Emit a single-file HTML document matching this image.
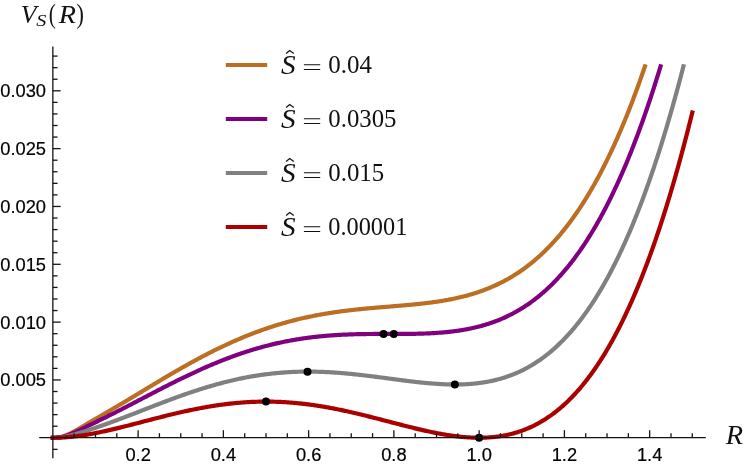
<!DOCTYPE html>
<html><head><meta charset="utf-8"><title>plot</title>
<style>
html,body{margin:0;padding:0;background:#fff;}
body{width:747px;height:466px;overflow:hidden;}
svg{display:block;}
.ax line{stroke:#141414;stroke-width:1.3;}
.tl text{font-family:"Liberation Sans",sans-serif;font-size:18.3px;fill:#000;stroke:#000;stroke-width:0.2px;}
.m{font-family:"Liberation Serif",serif;font-size:24px;fill:#111;}
.i{font-style:italic;}
.cv path{fill:none;stroke-width:4.2;stroke-linecap:square;stroke-linejoin:round;}
</style></head><body>
<div style="will-change:transform"><svg width="747" height="466" viewBox="0 0 747 466">
<rect width="747" height="466" fill="#fff"/>
<g class="tl">
<text x="138.11" y="460.9" text-anchor="middle">0.2</text>
<text x="223.37" y="460.9" text-anchor="middle">0.4</text>
<text x="308.63" y="460.9" text-anchor="middle">0.6</text>
<text x="393.89" y="460.9" text-anchor="middle">0.8</text>
<text x="479.15" y="460.9" text-anchor="middle">1.0</text>
<text x="564.41" y="460.9" text-anchor="middle">1.2</text>
<text x="649.67" y="460.9" text-anchor="middle">1.4</text>
<text x="46.0" y="386.45" text-anchor="end">0.005</text>
<text x="46.0" y="328.62" text-anchor="end">0.010</text>
<text x="46.0" y="270.79" text-anchor="end">0.015</text>
<text x="46.0" y="212.96" text-anchor="end">0.020</text>
<text x="46.0" y="155.13" text-anchor="end">0.025</text>
<text x="46.0" y="97.30" text-anchor="end">0.030</text>
</g>
<g class="cv">
<path d="M52.85 437.78 L53.92 437.77 L54.98 437.74 L56.05 437.68 L57.11 437.58 L58.18 437.45 L59.24 437.28 L60.31 437.07 L61.38 436.81 L62.44 436.53 L63.51 436.20 L64.57 435.84 L65.64 435.44 L66.70 435.01 L67.77 434.56 L68.84 434.08 L69.90 433.57 L70.97 433.05 L72.03 432.50 L73.10 431.94 L74.17 431.36 L75.23 430.78 L76.30 430.18 L77.36 429.57 L78.43 428.96 L79.49 428.34 L80.56 427.72 L81.63 427.09 L82.69 426.46 L83.76 425.83 L84.82 425.20 L85.89 424.57 L86.95 423.94 L88.02 423.31 L89.09 422.69 L90.15 422.06 L91.22 421.43 L92.28 420.81 L93.35 420.18 L94.41 419.56 L95.48 418.94 L96.55 418.32 L97.61 417.70 L98.68 417.08 L99.74 416.46 L100.81 415.84 L101.87 415.22 L102.94 414.60 L104.01 413.98 L105.07 413.37 L106.14 412.75 L107.20 412.13 L108.27 411.51 L109.33 410.89 L110.40 410.26 L111.47 409.64 L112.53 409.02 L113.60 408.39 L114.66 407.77 L115.73 407.14 L116.80 406.52 L117.86 405.89 L118.93 405.26 L119.99 404.63 L121.06 404.00 L122.12 403.36 L123.19 402.73 L124.26 402.10 L125.32 401.46 L126.39 400.83 L127.45 400.19 L128.52 399.55 L129.58 398.91 L130.65 398.27 L131.72 397.63 L132.78 396.99 L133.85 396.35 L134.91 395.71 L135.98 395.07 L137.04 394.43 L138.11 393.78 L139.18 393.14 L140.24 392.50 L141.31 391.86 L142.37 391.21 L143.44 390.57 L144.50 389.93 L145.57 389.28 L146.64 388.64 L147.70 388.00 L148.77 387.35 L149.83 386.71 L150.90 386.07 L151.96 385.43 L153.03 384.79 L154.10 384.15 L155.16 383.51 L156.23 382.87 L157.29 382.23 L158.36 381.59 L159.43 380.96 L160.49 380.32 L161.56 379.69 L162.62 379.05 L163.69 378.42 L164.75 377.79 L165.82 377.16 L166.89 376.53 L167.95 375.90 L169.02 375.28 L170.08 374.65 L171.15 374.03 L172.21 373.41 L173.28 372.79 L174.35 372.17 L175.41 371.55 L176.48 370.93 L177.54 370.32 L178.61 369.71 L179.67 369.10 L180.74 368.49 L181.81 367.88 L182.87 367.28 L183.94 366.67 L185.00 366.07 L186.07 365.47 L187.13 364.88 L188.20 364.28 L189.27 363.69 L190.33 363.10 L191.40 362.51 L192.46 361.93 L193.53 361.34 L194.59 360.76 L195.66 360.18 L196.73 359.61 L197.79 359.03 L198.86 358.46 L199.92 357.89 L200.99 357.33 L202.06 356.76 L203.12 356.20 L204.19 355.64 L205.25 355.09 L206.32 354.53 L207.38 353.98 L208.45 353.44 L209.52 352.89 L210.58 352.35 L211.65 351.81 L212.71 351.28 L213.78 350.74 L214.84 350.21 L215.91 349.69 L216.98 349.16 L218.04 348.64 L219.11 348.12 L220.17 347.61 L221.24 347.10 L222.30 346.59 L223.37 346.08 L224.44 345.58 L225.50 345.08 L226.57 344.59 L227.63 344.10 L228.70 343.61 L229.76 343.12 L230.83 342.64 L231.90 342.16 L232.96 341.68 L234.03 341.21 L235.09 340.74 L236.16 340.28 L237.22 339.81 L238.29 339.35 L239.36 338.90 L240.42 338.45 L241.49 338.00 L242.55 337.55 L243.62 337.11 L244.69 336.67 L245.75 336.24 L246.82 335.81 L247.88 335.38 L248.95 334.95 L250.01 334.53 L251.08 334.12 L252.15 333.70 L253.21 333.29 L254.28 332.89 L255.34 332.48 L256.41 332.09 L257.47 331.69 L258.54 331.30 L259.61 330.91 L260.67 330.52 L261.74 330.14 L262.80 329.77 L263.87 329.39 L264.93 329.02 L266.00 328.65 L267.07 328.29 L268.13 327.93 L269.20 327.58 L270.26 327.22 L271.33 326.88 L272.39 326.53 L273.46 326.19 L274.53 325.85 L275.59 325.52 L276.66 325.19 L277.72 324.86 L278.79 324.54 L279.85 324.22 L280.92 323.90 L281.99 323.59 L283.05 323.28 L284.12 322.97 L285.18 322.67 L286.25 322.37 L287.32 322.08 L288.38 321.78 L289.45 321.50 L290.51 321.21 L291.58 320.93 L292.64 320.65 L293.71 320.38 L294.78 320.11 L295.84 319.84 L296.91 319.58 L297.97 319.32 L299.04 319.06 L300.10 318.80 L301.17 318.55 L302.24 318.31 L303.30 318.06 L304.37 317.82 L305.43 317.58 L306.50 317.35 L307.56 317.12 L308.63 316.89 L309.70 316.67 L310.76 316.45 L311.83 316.23 L312.89 316.01 L313.96 315.80 L315.02 315.59 L316.09 315.39 L317.16 315.18 L318.22 314.98 L319.29 314.79 L320.35 314.59 L321.42 314.40 L322.48 314.21 L323.55 314.03 L324.62 313.84 L325.68 313.67 L326.75 313.49 L327.81 313.31 L328.88 313.14 L329.95 312.97 L331.01 312.81 L332.08 312.64 L333.14 312.48 L334.21 312.32 L335.27 312.17 L336.34 312.01 L337.41 311.86 L338.47 311.71 L339.54 311.57 L340.60 311.42 L341.67 311.28 L342.73 311.14 L343.80 311.01 L344.87 310.87 L345.93 310.74 L347.00 310.61 L348.06 310.48 L349.13 310.35 L350.19 310.23 L351.26 310.10 L352.33 309.98 L353.39 309.86 L354.46 309.75 L355.52 309.63 L356.59 309.52 L357.65 309.40 L358.72 309.29 L359.79 309.18 L360.85 309.08 L361.92 308.97 L362.98 308.86 L364.05 308.76 L365.11 308.66 L366.18 308.56 L367.25 308.46 L368.31 308.36 L369.38 308.26 L370.44 308.17 L371.51 308.07 L372.58 307.98 L373.64 307.88 L374.71 307.79 L375.77 307.70 L376.84 307.61 L377.90 307.52 L378.97 307.43 L380.04 307.34 L381.10 307.25 L382.17 307.16 L383.23 307.07 L384.30 306.99 L385.36 306.90 L386.43 306.81 L387.50 306.73 L388.56 306.64 L389.63 306.55 L390.69 306.47 L391.76 306.38 L392.82 306.29 L393.89 306.21 L394.96 306.12 L396.02 306.03 L397.09 305.94 L398.15 305.85 L399.22 305.76 L400.28 305.67 L401.35 305.58 L402.42 305.49 L403.48 305.40 L404.55 305.31 L405.61 305.21 L406.68 305.12 L407.74 305.02 L408.81 304.92 L409.88 304.83 L410.94 304.73 L412.01 304.62 L413.07 304.52 L414.14 304.42 L415.21 304.31 L416.27 304.20 L417.34 304.09 L418.40 303.98 L419.47 303.87 L420.53 303.75 L421.60 303.64 L422.67 303.52 L423.73 303.39 L424.80 303.27 L425.86 303.14 L426.93 303.02 L427.99 302.88 L429.06 302.75 L430.13 302.61 L431.19 302.47 L432.26 302.33 L433.32 302.18 L434.39 302.04 L435.45 301.88 L436.52 301.73 L437.59 301.57 L438.65 301.41 L439.72 301.24 L440.78 301.07 L441.85 300.90 L442.91 300.73 L443.98 300.55 L445.05 300.36 L446.11 300.17 L447.18 299.98 L448.24 299.78 L449.31 299.58 L450.37 299.38 L451.44 299.17 L452.51 298.95 L453.57 298.74 L454.64 298.51 L455.70 298.28 L456.77 298.05 L457.84 297.81 L458.90 297.57 L459.97 297.32 L461.03 297.06 L462.10 296.80 L463.16 296.54 L464.23 296.27 L465.30 295.99 L466.36 295.71 L467.43 295.42 L468.49 295.12 L469.56 294.82 L470.62 294.51 L471.69 294.20 L472.76 293.88 L473.82 293.55 L474.89 293.22 L475.95 292.88 L477.02 292.53 L478.08 292.18 L479.15 291.82 L480.22 291.45 L481.28 291.07 L482.35 290.69 L483.41 290.30 L484.48 289.90 L485.54 289.49 L486.61 289.08 L487.68 288.66 L488.74 288.23 L489.81 287.79 L490.87 287.34 L491.94 286.89 L493.00 286.42 L494.07 285.95 L495.14 285.47 L496.20 284.98 L497.27 284.48 L498.33 283.97 L499.40 283.45 L500.47 282.92 L501.53 282.39 L502.60 281.84 L503.66 281.29 L504.73 280.72 L505.79 280.14 L506.86 279.56 L507.93 278.96 L508.99 278.36 L510.06 277.74 L511.12 277.11 L512.19 276.47 L513.25 275.82 L514.32 275.16 L515.39 274.49 L516.45 273.81 L517.52 273.12 L518.58 272.41 L519.65 271.69 L520.71 270.96 L521.78 270.22 L522.85 269.47 L523.91 268.71 L524.98 267.93 L526.04 267.14 L527.11 266.34 L528.17 265.52 L529.24 264.70 L530.31 263.86 L531.37 263.00 L532.44 262.14 L533.50 261.26 L534.57 260.36 L535.63 259.46 L536.70 258.53 L537.77 257.60 L538.83 256.65 L539.90 255.69 L540.96 254.71 L542.03 253.72 L543.10 252.71 L544.16 251.69 L545.23 250.66 L546.29 249.61 L547.36 248.54 L548.42 247.46 L549.49 246.36 L550.56 245.25 L551.62 244.13 L552.69 242.98 L553.75 241.82 L554.82 240.65 L555.88 239.45 L556.95 238.25 L558.02 237.02 L559.08 235.78 L560.15 234.52 L561.21 233.25 L562.28 231.95 L563.34 230.64 L564.41 229.31 L565.48 227.97 L566.54 226.61 L567.61 225.23 L568.67 223.83 L569.74 222.41 L570.80 220.97 L571.87 219.52 L572.94 218.05 L574.00 216.55 L575.07 215.04 L576.13 213.51 L577.20 211.96 L578.26 210.39 L579.33 208.81 L580.40 207.20 L581.46 205.57 L582.53 203.92 L583.59 202.25 L584.66 200.56 L585.73 198.85 L586.79 197.12 L587.86 195.37 L588.92 193.60 L589.99 191.80 L591.05 189.99 L592.12 188.15 L593.19 186.29 L594.25 184.41 L595.32 182.51 L596.38 180.58 L597.45 178.63 L598.51 176.66 L599.58 174.67 L600.65 172.66 L601.71 170.62 L602.78 168.55 L603.84 166.47 L604.91 164.36 L605.97 162.23 L607.04 160.07 L608.11 157.89 L609.17 155.68 L610.24 153.45 L611.30 151.20 L612.37 148.92 L613.43 146.61 L614.50 144.28 L615.57 141.93 L616.63 139.55 L617.70 137.14 L618.76 134.71 L619.83 132.25 L620.89 129.76 L621.96 127.25 L623.03 124.72 L624.09 122.15 L625.16 119.56 L626.22 116.94 L627.29 114.29 L628.36 111.62 L629.42 108.92 L630.49 106.19 L631.55 103.43 L632.62 100.65 L633.68 97.83 L634.75 94.99 L635.82 92.12 L636.88 89.22 L637.95 86.29 L639.01 83.33 L640.08 80.34 L641.14 77.32 L642.21 74.27 L643.28 71.19 L644.34 68.08 L644.95 66.30" stroke="#BC6E22"/>
<path d="M52.85 437.78 L53.92 437.77 L54.98 437.75 L56.05 437.70 L57.11 437.62 L58.18 437.51 L59.24 437.37 L60.31 437.19 L61.38 436.99 L62.44 436.76 L63.51 436.49 L64.57 436.20 L65.64 435.88 L66.70 435.54 L67.77 435.17 L68.84 434.78 L69.90 434.37 L70.97 433.94 L72.03 433.50 L73.10 433.05 L74.17 432.58 L75.23 432.10 L76.30 431.61 L77.36 431.12 L78.43 430.62 L79.49 430.11 L80.56 429.60 L81.63 429.09 L82.69 428.57 L83.76 428.05 L84.82 427.53 L85.89 427.01 L86.95 426.49 L88.02 425.96 L89.09 425.44 L90.15 424.92 L91.22 424.39 L92.28 423.87 L93.35 423.35 L94.41 422.82 L95.48 422.30 L96.55 421.78 L97.61 421.25 L98.68 420.73 L99.74 420.21 L100.81 419.68 L101.87 419.16 L102.94 418.63 L104.01 418.10 L105.07 417.58 L106.14 417.05 L107.20 416.52 L108.27 415.99 L109.33 415.46 L110.40 414.93 L111.47 414.39 L112.53 413.86 L113.60 413.32 L114.66 412.79 L115.73 412.25 L116.80 411.71 L117.86 411.17 L118.93 410.63 L119.99 410.08 L121.06 409.54 L122.12 408.99 L123.19 408.45 L124.26 407.90 L125.32 407.35 L126.39 406.80 L127.45 406.25 L128.52 405.70 L129.58 405.15 L130.65 404.60 L131.72 404.05 L132.78 403.49 L133.85 402.94 L134.91 402.38 L135.98 401.83 L137.04 401.27 L138.11 400.72 L139.18 400.16 L140.24 399.60 L141.31 399.05 L142.37 398.49 L143.44 397.94 L144.50 397.38 L145.57 396.82 L146.64 396.27 L147.70 395.71 L148.77 395.15 L149.83 394.60 L150.90 394.04 L151.96 393.49 L153.03 392.94 L154.10 392.38 L155.16 391.83 L156.23 391.28 L157.29 390.73 L158.36 390.17 L159.43 389.62 L160.49 389.08 L161.56 388.53 L162.62 387.98 L163.69 387.44 L164.75 386.89 L165.82 386.35 L166.89 385.80 L167.95 385.26 L169.02 384.72 L170.08 384.19 L171.15 383.65 L172.21 383.11 L173.28 382.58 L174.35 382.05 L175.41 381.52 L176.48 380.99 L177.54 380.46 L178.61 379.93 L179.67 379.41 L180.74 378.89 L181.81 378.37 L182.87 377.85 L183.94 377.33 L185.00 376.82 L186.07 376.31 L187.13 375.80 L188.20 375.29 L189.27 374.78 L190.33 374.28 L191.40 373.78 L192.46 373.28 L193.53 372.78 L194.59 372.29 L195.66 371.80 L196.73 371.31 L197.79 370.82 L198.86 370.33 L199.92 369.85 L200.99 369.37 L202.06 368.90 L203.12 368.42 L204.19 367.95 L205.25 367.48 L206.32 367.01 L207.38 366.55 L208.45 366.09 L209.52 365.63 L210.58 365.18 L211.65 364.73 L212.71 364.28 L213.78 363.83 L214.84 363.39 L215.91 362.95 L216.98 362.51 L218.04 362.08 L219.11 361.64 L220.17 361.22 L221.24 360.79 L222.30 360.37 L223.37 359.95 L224.44 359.54 L225.50 359.12 L226.57 358.71 L227.63 358.31 L228.70 357.91 L229.76 357.51 L230.83 357.11 L231.90 356.72 L232.96 356.33 L234.03 355.94 L235.09 355.56 L236.16 355.18 L237.22 354.81 L238.29 354.43 L239.36 354.06 L240.42 353.70 L241.49 353.34 L242.55 352.98 L243.62 352.62 L244.69 352.27 L245.75 351.92 L246.82 351.58 L247.88 351.24 L248.95 350.90 L250.01 350.57 L251.08 350.24 L252.15 349.91 L253.21 349.59 L254.28 349.27 L255.34 348.95 L256.41 348.64 L257.47 348.33 L258.54 348.02 L259.61 347.72 L260.67 347.42 L261.74 347.13 L262.80 346.84 L263.87 346.55 L264.93 346.27 L266.00 345.99 L267.07 345.71 L268.13 345.44 L269.20 345.17 L270.26 344.90 L271.33 344.64 L272.39 344.38 L273.46 344.13 L274.53 343.88 L275.59 343.63 L276.66 343.39 L277.72 343.15 L278.79 342.91 L279.85 342.68 L280.92 342.45 L281.99 342.22 L283.05 342.00 L284.12 341.78 L285.18 341.56 L286.25 341.35 L287.32 341.14 L288.38 340.94 L289.45 340.74 L290.51 340.54 L291.58 340.34 L292.64 340.15 L293.71 339.96 L294.78 339.78 L295.84 339.60 L296.91 339.42 L297.97 339.25 L299.04 339.08 L300.10 338.91 L301.17 338.75 L302.24 338.59 L303.30 338.43 L304.37 338.28 L305.43 338.12 L306.50 337.98 L307.56 337.83 L308.63 337.69 L309.70 337.55 L310.76 337.42 L311.83 337.29 L312.89 337.16 L313.96 337.03 L315.02 336.91 L316.09 336.79 L317.16 336.68 L318.22 336.56 L319.29 336.45 L320.35 336.35 L321.42 336.24 L322.48 336.14 L323.55 336.04 L324.62 335.94 L325.68 335.85 L326.75 335.76 L327.81 335.67 L328.88 335.59 L329.95 335.51 L331.01 335.43 L332.08 335.35 L333.14 335.28 L334.21 335.20 L335.27 335.13 L336.34 335.07 L337.41 335.00 L338.47 334.94 L339.54 334.88 L340.60 334.82 L341.67 334.77 L342.73 334.72 L343.80 334.67 L344.87 334.62 L345.93 334.57 L347.00 334.53 L348.06 334.48 L349.13 334.44 L350.19 334.41 L351.26 334.37 L352.33 334.33 L353.39 334.30 L354.46 334.27 L355.52 334.24 L356.59 334.22 L357.65 334.19 L358.72 334.17 L359.79 334.14 L360.85 334.12 L361.92 334.10 L362.98 334.08 L364.05 334.07 L365.11 334.05 L366.18 334.04 L367.25 334.02 L368.31 334.01 L369.38 334.00 L370.44 333.99 L371.51 333.98 L372.58 333.98 L373.64 333.97 L374.71 333.96 L375.77 333.96 L376.84 333.95 L377.90 333.95 L378.97 333.95 L380.04 333.95 L381.10 333.94 L382.17 333.94 L383.23 333.94 L384.30 333.94 L385.36 333.94 L386.43 333.94 L387.50 333.94 L388.56 333.94 L389.63 333.94 L390.69 333.94 L391.76 333.94 L392.82 333.94 L393.89 333.94 L394.96 333.94 L396.02 333.94 L397.09 333.93 L398.15 333.93 L399.22 333.93 L400.28 333.93 L401.35 333.92 L402.42 333.92 L403.48 333.91 L404.55 333.91 L405.61 333.90 L406.68 333.89 L407.74 333.88 L408.81 333.87 L409.88 333.86 L410.94 333.84 L412.01 333.83 L413.07 333.81 L414.14 333.80 L415.21 333.78 L416.27 333.76 L417.34 333.73 L418.40 333.71 L419.47 333.68 L420.53 333.65 L421.60 333.62 L422.67 333.59 L423.73 333.55 L424.80 333.52 L425.86 333.48 L426.93 333.43 L427.99 333.39 L429.06 333.34 L430.13 333.29 L431.19 333.24 L432.26 333.18 L433.32 333.12 L434.39 333.06 L435.45 333.00 L436.52 332.93 L437.59 332.86 L438.65 332.78 L439.72 332.70 L440.78 332.62 L441.85 332.54 L442.91 332.45 L443.98 332.35 L445.05 332.25 L446.11 332.15 L447.18 332.05 L448.24 331.94 L449.31 331.82 L450.37 331.70 L451.44 331.58 L452.51 331.45 L453.57 331.32 L454.64 331.18 L455.70 331.04 L456.77 330.90 L457.84 330.74 L458.90 330.59 L459.97 330.42 L461.03 330.26 L462.10 330.08 L463.16 329.90 L464.23 329.72 L465.30 329.53 L466.36 329.33 L467.43 329.13 L468.49 328.92 L469.56 328.71 L470.62 328.49 L471.69 328.26 L472.76 328.03 L473.82 327.79 L474.89 327.54 L475.95 327.29 L477.02 327.03 L478.08 326.76 L479.15 326.48 L480.22 326.20 L481.28 325.91 L482.35 325.62 L483.41 325.31 L484.48 325.00 L485.54 324.68 L486.61 324.35 L487.68 324.02 L488.74 323.67 L489.81 323.32 L490.87 322.96 L491.94 322.59 L493.00 322.21 L494.07 321.83 L495.14 321.43 L496.20 321.03 L497.27 320.62 L498.33 320.20 L499.40 319.76 L500.47 319.32 L501.53 318.87 L502.60 318.41 L503.66 317.95 L504.73 317.47 L505.79 316.98 L506.86 316.48 L507.93 315.97 L508.99 315.45 L510.06 314.92 L511.12 314.38 L512.19 313.83 L513.25 313.26 L514.32 312.69 L515.39 312.10 L516.45 311.51 L517.52 310.90 L518.58 310.28 L519.65 309.65 L520.71 309.01 L521.78 308.36 L522.85 307.69 L523.91 307.01 L524.98 306.32 L526.04 305.62 L527.11 304.90 L528.17 304.18 L529.24 303.44 L530.31 302.68 L531.37 301.91 L532.44 301.14 L533.50 300.34 L534.57 299.54 L535.63 298.71 L536.70 297.88 L537.77 297.03 L538.83 296.17 L539.90 295.30 L540.96 294.40 L542.03 293.50 L543.10 292.58 L544.16 291.65 L545.23 290.70 L546.29 289.73 L547.36 288.75 L548.42 287.76 L549.49 286.75 L550.56 285.73 L551.62 284.68 L552.69 283.63 L553.75 282.55 L554.82 281.47 L555.88 280.36 L556.95 279.24 L558.02 278.10 L559.08 276.95 L560.15 275.77 L561.21 274.58 L562.28 273.38 L563.34 272.15 L564.41 270.91 L565.48 269.66 L566.54 268.38 L567.61 267.08 L568.67 265.77 L569.74 264.44 L570.80 263.09 L571.87 261.72 L572.94 260.34 L574.00 258.93 L575.07 257.51 L576.13 256.07 L577.20 254.60 L578.26 253.12 L579.33 251.62 L580.40 250.10 L581.46 248.55 L582.53 246.99 L583.59 245.41 L584.66 243.81 L585.73 242.18 L586.79 240.54 L587.86 238.88 L588.92 237.19 L589.99 235.48 L591.05 233.75 L592.12 232.00 L593.19 230.23 L594.25 228.44 L595.32 226.62 L596.38 224.78 L597.45 222.92 L598.51 221.04 L599.58 219.13 L600.65 217.20 L601.71 215.25 L602.78 213.27 L603.84 211.27 L604.91 209.25 L605.97 207.21 L607.04 205.13 L608.11 203.04 L609.17 200.92 L610.24 198.78 L611.30 196.61 L612.37 194.42 L613.43 192.20 L614.50 189.96 L615.57 187.69 L616.63 185.39 L617.70 183.07 L618.76 180.73 L619.83 178.36 L620.89 175.96 L621.96 173.53 L623.03 171.08 L624.09 168.60 L625.16 166.10 L626.22 163.57 L627.29 161.01 L628.36 158.42 L629.42 155.81 L630.49 153.16 L631.55 150.49 L632.62 147.79 L633.68 145.07 L634.75 142.31 L635.82 139.52 L636.88 136.71 L637.95 133.87 L639.01 130.99 L640.08 128.09 L641.14 125.16 L642.21 122.20 L643.28 119.21 L644.34 116.18 L645.41 113.13 L646.47 110.05 L647.54 106.93 L648.60 103.79 L649.67 100.61 L650.74 97.40 L651.80 94.16 L652.87 90.89 L653.93 87.58 L655.00 84.25 L656.06 80.88 L657.13 77.48 L658.20 74.04 L659.26 70.57 L660.33 67.07 L660.56 66.30" stroke="#800080"/>
<path d="M52.85 437.78 L53.92 437.77 L54.98 437.76 L56.05 437.72 L57.11 437.67 L58.18 437.60 L59.24 437.51 L60.31 437.41 L61.38 437.28 L62.44 437.13 L63.51 436.97 L64.57 436.79 L65.64 436.60 L66.70 436.39 L67.77 436.16 L68.84 435.92 L69.90 435.67 L70.97 435.41 L72.03 435.13 L73.10 434.85 L74.17 434.56 L75.23 434.26 L76.30 433.95 L77.36 433.64 L78.43 433.32 L79.49 433.00 L80.56 432.67 L81.63 432.34 L82.69 432.00 L83.76 431.67 L84.82 431.32 L85.89 430.98 L86.95 430.63 L88.02 430.28 L89.09 429.93 L90.15 429.58 L91.22 429.23 L92.28 428.87 L93.35 428.51 L94.41 428.15 L95.48 427.79 L96.55 427.42 L97.61 427.06 L98.68 426.69 L99.74 426.32 L100.81 425.95 L101.87 425.58 L102.94 425.20 L104.01 424.83 L105.07 424.45 L106.14 424.07 L107.20 423.69 L108.27 423.30 L109.33 422.92 L110.40 422.53 L111.47 422.14 L112.53 421.76 L113.60 421.36 L114.66 420.97 L115.73 420.58 L116.80 420.18 L117.86 419.78 L118.93 419.38 L119.99 418.98 L121.06 418.58 L122.12 418.18 L123.19 417.78 L124.26 417.37 L125.32 416.96 L126.39 416.56 L127.45 416.15 L128.52 415.74 L129.58 415.33 L130.65 414.92 L131.72 414.51 L132.78 414.10 L133.85 413.68 L134.91 413.27 L135.98 412.86 L137.04 412.44 L138.11 412.03 L139.18 411.61 L140.24 411.20 L141.31 410.78 L142.37 410.37 L143.44 409.95 L144.50 409.54 L145.57 409.12 L146.64 408.71 L147.70 408.29 L148.77 407.88 L149.83 407.47 L150.90 407.05 L151.96 406.64 L153.03 406.23 L154.10 405.81 L155.16 405.40 L156.23 404.99 L157.29 404.58 L158.36 404.17 L159.43 403.77 L160.49 403.36 L161.56 402.95 L162.62 402.55 L163.69 402.14 L164.75 401.74 L165.82 401.34 L166.89 400.93 L167.95 400.54 L169.02 400.14 L170.08 399.74 L171.15 399.34 L172.21 398.95 L173.28 398.56 L174.35 398.17 L175.41 397.78 L176.48 397.39 L177.54 397.00 L178.61 396.62 L179.67 396.24 L180.74 395.86 L181.81 395.48 L182.87 395.10 L183.94 394.73 L185.00 394.35 L186.07 393.98 L187.13 393.61 L188.20 393.25 L189.27 392.88 L190.33 392.52 L191.40 392.16 L192.46 391.80 L193.53 391.45 L194.59 391.09 L195.66 390.74 L196.73 390.39 L197.79 390.05 L198.86 389.71 L199.92 389.37 L200.99 389.03 L202.06 388.69 L203.12 388.36 L204.19 388.03 L205.25 387.70 L206.32 387.38 L207.38 387.05 L208.45 386.74 L209.52 386.42 L210.58 386.11 L211.65 385.79 L212.71 385.49 L213.78 385.18 L214.84 384.88 L215.91 384.58 L216.98 384.29 L218.04 383.99 L219.11 383.70 L220.17 383.42 L221.24 383.13 L222.30 382.85 L223.37 382.58 L224.44 382.30 L225.50 382.03 L226.57 381.76 L227.63 381.50 L228.70 381.24 L229.76 380.98 L230.83 380.73 L231.90 380.47 L232.96 380.23 L234.03 379.98 L235.09 379.74 L236.16 379.50 L237.22 379.27 L238.29 379.04 L239.36 378.81 L240.42 378.59 L241.49 378.37 L242.55 378.15 L243.62 377.93 L244.69 377.72 L245.75 377.52 L246.82 377.31 L247.88 377.11 L248.95 376.92 L250.01 376.73 L251.08 376.54 L252.15 376.35 L253.21 376.17 L254.28 375.99 L255.34 375.82 L256.41 375.65 L257.47 375.48 L258.54 375.31 L259.61 375.15 L260.67 375.00 L261.74 374.84 L262.80 374.69 L263.87 374.55 L264.93 374.41 L266.00 374.27 L267.07 374.13 L268.13 374.00 L269.20 373.87 L270.26 373.75 L271.33 373.63 L272.39 373.51 L273.46 373.40 L274.53 373.29 L275.59 373.18 L276.66 373.08 L277.72 372.98 L278.79 372.89 L279.85 372.79 L280.92 372.71 L281.99 372.62 L283.05 372.54 L284.12 372.46 L285.18 372.39 L286.25 372.32 L287.32 372.25 L288.38 372.19 L289.45 372.13 L290.51 372.07 L291.58 372.02 L292.64 371.97 L293.71 371.92 L294.78 371.88 L295.84 371.84 L296.91 371.80 L297.97 371.77 L299.04 371.74 L300.10 371.72 L301.17 371.69 L302.24 371.67 L303.30 371.66 L304.37 371.65 L305.43 371.64 L306.50 371.63 L307.56 371.63 L308.63 371.63 L309.70 371.63 L310.76 371.64 L311.83 371.65 L312.89 371.66 L313.96 371.68 L315.02 371.70 L316.09 371.72 L317.16 371.74 L318.22 371.77 L319.29 371.80 L320.35 371.84 L321.42 371.87 L322.48 371.91 L323.55 371.96 L324.62 372.00 L325.68 372.05 L326.75 372.10 L327.81 372.16 L328.88 372.21 L329.95 372.27 L331.01 372.33 L332.08 372.40 L333.14 372.46 L334.21 372.53 L335.27 372.61 L336.34 372.68 L337.41 372.76 L338.47 372.84 L339.54 372.92 L340.60 373.00 L341.67 373.09 L342.73 373.18 L343.80 373.27 L344.87 373.36 L345.93 373.46 L347.00 373.55 L348.06 373.65 L349.13 373.75 L350.19 373.86 L351.26 373.96 L352.33 374.07 L353.39 374.18 L354.46 374.29 L355.52 374.40 L356.59 374.51 L357.65 374.63 L358.72 374.75 L359.79 374.87 L360.85 374.99 L361.92 375.11 L362.98 375.23 L364.05 375.36 L365.11 375.48 L366.18 375.61 L367.25 375.74 L368.31 375.87 L369.38 376.00 L370.44 376.13 L371.51 376.26 L372.58 376.40 L373.64 376.53 L374.71 376.67 L375.77 376.80 L376.84 376.94 L377.90 377.08 L378.97 377.22 L380.04 377.36 L381.10 377.50 L382.17 377.64 L383.23 377.78 L384.30 377.92 L385.36 378.06 L386.43 378.20 L387.50 378.34 L388.56 378.48 L389.63 378.62 L390.69 378.76 L391.76 378.90 L392.82 379.05 L393.89 379.19 L394.96 379.33 L396.02 379.47 L397.09 379.61 L398.15 379.75 L399.22 379.89 L400.28 380.02 L401.35 380.16 L402.42 380.30 L403.48 380.43 L404.55 380.57 L405.61 380.70 L406.68 380.84 L407.74 380.97 L408.81 381.10 L409.88 381.23 L410.94 381.36 L412.01 381.48 L413.07 381.61 L414.14 381.73 L415.21 381.85 L416.27 381.97 L417.34 382.09 L418.40 382.21 L419.47 382.32 L420.53 382.44 L421.60 382.55 L422.67 382.66 L423.73 382.76 L424.80 382.87 L425.86 382.97 L426.93 383.07 L427.99 383.16 L429.06 383.26 L430.13 383.35 L431.19 383.44 L432.26 383.52 L433.32 383.60 L434.39 383.68 L435.45 383.76 L436.52 383.83 L437.59 383.90 L438.65 383.97 L439.72 384.03 L440.78 384.09 L441.85 384.15 L442.91 384.20 L443.98 384.25 L445.05 384.29 L446.11 384.33 L447.18 384.37 L448.24 384.40 L449.31 384.42 L450.37 384.45 L451.44 384.47 L452.51 384.48 L453.57 384.49 L454.64 384.49 L455.70 384.49 L456.77 384.49 L457.84 384.48 L458.90 384.46 L459.97 384.44 L461.03 384.41 L462.10 384.38 L463.16 384.34 L464.23 384.30 L465.30 384.25 L466.36 384.20 L467.43 384.14 L468.49 384.07 L469.56 384.00 L470.62 383.92 L471.69 383.83 L472.76 383.74 L473.82 383.64 L474.89 383.53 L475.95 383.42 L477.02 383.30 L478.08 383.18 L479.15 383.04 L480.22 382.90 L481.28 382.76 L482.35 382.60 L483.41 382.44 L484.48 382.27 L485.54 382.09 L486.61 381.90 L487.68 381.71 L488.74 381.51 L489.81 381.30 L490.87 381.08 L491.94 380.85 L493.00 380.61 L494.07 380.37 L495.14 380.12 L496.20 379.85 L497.27 379.58 L498.33 379.30 L499.40 379.01 L500.47 378.71 L501.53 378.40 L502.60 378.09 L503.66 377.76 L504.73 377.42 L505.79 377.07 L506.86 376.71 L507.93 376.35 L508.99 375.97 L510.06 375.58 L511.12 375.18 L512.19 374.77 L513.25 374.35 L514.32 373.92 L515.39 373.47 L516.45 373.02 L517.52 372.55 L518.58 372.08 L519.65 371.59 L520.71 371.09 L521.78 370.57 L522.85 370.05 L523.91 369.51 L524.98 368.96 L526.04 368.40 L527.11 367.83 L528.17 367.24 L529.24 366.64 L530.31 366.03 L531.37 365.40 L532.44 364.77 L533.50 364.11 L534.57 363.45 L535.63 362.77 L536.70 362.08 L537.77 361.37 L538.83 360.65 L539.90 359.92 L540.96 359.17 L542.03 358.40 L543.10 357.63 L544.16 356.83 L545.23 356.03 L546.29 355.20 L547.36 354.37 L548.42 353.51 L549.49 352.64 L550.56 351.76 L551.62 350.86 L552.69 349.95 L553.75 349.01 L554.82 348.07 L555.88 347.10 L556.95 346.12 L558.02 345.12 L559.08 344.11 L560.15 343.08 L561.21 342.03 L562.28 340.97 L563.34 339.89 L564.41 338.79 L565.48 337.67 L566.54 336.53 L567.61 335.38 L568.67 334.21 L569.74 333.02 L570.80 331.81 L571.87 330.59 L572.94 329.34 L574.00 328.08 L575.07 326.80 L576.13 325.49 L577.20 324.17 L578.26 322.83 L579.33 321.47 L580.40 320.09 L581.46 318.69 L582.53 317.27 L583.59 315.83 L584.66 314.37 L585.73 312.89 L586.79 311.38 L587.86 309.86 L588.92 308.31 L589.99 306.75 L591.05 305.16 L592.12 303.55 L593.19 301.92 L594.25 300.27 L595.32 298.59 L596.38 296.90 L597.45 295.18 L598.51 293.43 L599.58 291.67 L600.65 289.88 L601.71 288.07 L602.78 286.24 L603.84 284.38 L604.91 282.50 L605.97 280.59 L607.04 278.66 L608.11 276.71 L609.17 274.73 L610.24 272.73 L611.30 270.70 L612.37 268.65 L613.43 266.58 L614.50 264.47 L615.57 262.35 L616.63 260.19 L617.70 258.02 L618.76 255.81 L619.83 253.58 L620.89 251.32 L621.96 249.04 L623.03 246.73 L624.09 244.40 L625.16 242.03 L626.22 239.64 L627.29 237.22 L628.36 234.78 L629.42 232.30 L630.49 229.80 L631.55 227.27 L632.62 224.72 L633.68 222.13 L634.75 219.51 L635.82 216.87 L636.88 214.20 L637.95 211.50 L639.01 208.77 L640.08 206.00 L641.14 203.21 L642.21 200.39 L643.28 197.54 L644.34 194.66 L645.41 191.75 L646.47 188.81 L647.54 185.83 L648.60 182.83 L649.67 179.79 L650.74 176.73 L651.80 173.63 L652.87 170.50 L653.93 167.33 L655.00 164.14 L656.06 160.91 L657.13 157.65 L658.20 154.36 L659.26 151.03 L660.33 147.67 L661.39 144.28 L662.46 140.85 L663.52 137.39 L664.59 133.90 L665.66 130.37 L666.72 126.80 L667.79 123.20 L668.85 119.57 L669.92 115.90 L670.99 112.20 L672.05 108.46 L673.12 104.68 L674.18 100.87 L675.25 97.03 L676.31 93.14 L677.38 89.22 L678.45 85.26 L679.51 81.27 L680.58 77.24 L681.64 73.17 L682.71 69.06 L683.42 66.30" stroke="#808080"/>
<path d="M52.85 437.78 L53.92 437.78 L54.98 437.77 L56.05 437.75 L57.11 437.72 L58.18 437.69 L59.24 437.65 L60.31 437.61 L61.38 437.56 L62.44 437.50 L63.51 437.44 L64.57 437.37 L65.64 437.29 L66.70 437.21 L67.77 437.12 L68.84 437.03 L69.90 436.93 L70.97 436.82 L72.03 436.71 L73.10 436.60 L74.17 436.47 L75.23 436.35 L76.30 436.22 L77.36 436.08 L78.43 435.94 L79.49 435.79 L80.56 435.64 L81.63 435.49 L82.69 435.33 L83.76 435.16 L84.82 434.99 L85.89 434.82 L86.95 434.64 L88.02 434.46 L89.09 434.28 L90.15 434.09 L91.22 433.90 L92.28 433.70 L93.35 433.50 L94.41 433.30 L95.48 433.09 L96.55 432.88 L97.61 432.67 L98.68 432.45 L99.74 432.23 L100.81 432.01 L101.87 431.79 L102.94 431.56 L104.01 431.33 L105.07 431.09 L106.14 430.86 L107.20 430.62 L108.27 430.38 L109.33 430.13 L110.40 429.89 L111.47 429.64 L112.53 429.39 L113.60 429.14 L114.66 428.89 L115.73 428.63 L116.80 428.37 L117.86 428.11 L118.93 427.85 L119.99 427.59 L121.06 427.33 L122.12 427.06 L123.19 426.80 L124.26 426.53 L125.32 426.26 L126.39 425.99 L127.45 425.72 L128.52 425.45 L129.58 425.17 L130.65 424.90 L131.72 424.63 L132.78 424.35 L133.85 424.08 L134.91 423.80 L135.98 423.52 L137.04 423.25 L138.11 422.97 L139.18 422.69 L140.24 422.41 L141.31 422.13 L142.37 421.86 L143.44 421.58 L144.50 421.30 L145.57 421.02 L146.64 420.74 L147.70 420.47 L148.77 420.19 L149.83 419.91 L150.90 419.63 L151.96 419.36 L153.03 419.08 L154.10 418.81 L155.16 418.53 L156.23 418.26 L157.29 417.98 L158.36 417.71 L159.43 417.44 L160.49 417.17 L161.56 416.90 L162.62 416.63 L163.69 416.36 L164.75 416.10 L165.82 415.83 L166.89 415.57 L167.95 415.30 L169.02 415.04 L170.08 414.78 L171.15 414.52 L172.21 414.27 L173.28 414.01 L174.35 413.76 L175.41 413.50 L176.48 413.25 L177.54 413.00 L178.61 412.76 L179.67 412.51 L180.74 412.27 L181.81 412.02 L182.87 411.78 L183.94 411.55 L185.00 411.31 L186.07 411.08 L187.13 410.84 L188.20 410.61 L189.27 410.39 L190.33 410.16 L191.40 409.94 L192.46 409.72 L193.53 409.50 L194.59 409.28 L195.66 409.07 L196.73 408.86 L197.79 408.65 L198.86 408.44 L199.92 408.24 L200.99 408.04 L202.06 407.84 L203.12 407.64 L204.19 407.45 L205.25 407.26 L206.32 407.07 L207.38 406.88 L208.45 406.70 L209.52 406.52 L210.58 406.34 L211.65 406.17 L212.71 406.00 L213.78 405.83 L214.84 405.67 L215.91 405.50 L216.98 405.35 L218.04 405.19 L219.11 405.04 L220.17 404.89 L221.24 404.74 L222.30 404.60 L223.37 404.46 L224.44 404.32 L225.50 404.18 L226.57 404.05 L227.63 403.93 L228.70 403.80 L229.76 403.68 L230.83 403.56 L231.90 403.45 L232.96 403.34 L234.03 403.23 L235.09 403.12 L236.16 403.02 L237.22 402.93 L238.29 402.83 L239.36 402.74 L240.42 402.65 L241.49 402.57 L242.55 402.49 L243.62 402.41 L244.69 402.34 L245.75 402.27 L246.82 402.20 L247.88 402.14 L248.95 402.08 L250.01 402.02 L251.08 401.97 L252.15 401.92 L253.21 401.88 L254.28 401.84 L255.34 401.80 L256.41 401.77 L257.47 401.73 L258.54 401.71 L259.61 401.68 L260.67 401.66 L261.74 401.65 L262.80 401.63 L263.87 401.63 L264.93 401.62 L266.00 401.62 L267.07 401.62 L268.13 401.63 L269.20 401.63 L270.26 401.65 L271.33 401.66 L272.39 401.68 L273.46 401.71 L274.53 401.73 L275.59 401.76 L276.66 401.80 L277.72 401.84 L278.79 401.88 L279.85 401.92 L280.92 401.97 L281.99 402.02 L283.05 402.08 L284.12 402.14 L285.18 402.20 L286.25 402.27 L287.32 402.34 L288.38 402.41 L289.45 402.49 L290.51 402.57 L291.58 402.65 L292.64 402.74 L293.71 402.83 L294.78 402.92 L295.84 403.02 L296.91 403.12 L297.97 403.22 L299.04 403.33 L300.10 403.44 L301.17 403.56 L302.24 403.67 L303.30 403.79 L304.37 403.92 L305.43 404.05 L306.50 404.18 L307.56 404.31 L308.63 404.45 L309.70 404.59 L310.76 404.73 L311.83 404.88 L312.89 405.03 L313.96 405.18 L315.02 405.34 L316.09 405.50 L317.16 405.66 L318.22 405.82 L319.29 405.99 L320.35 406.16 L321.42 406.33 L322.48 406.51 L323.55 406.69 L324.62 406.87 L325.68 407.06 L326.75 407.25 L327.81 407.44 L328.88 407.63 L329.95 407.83 L331.01 408.02 L332.08 408.23 L333.14 408.43 L334.21 408.64 L335.27 408.84 L336.34 409.06 L337.41 409.27 L338.47 409.49 L339.54 409.70 L340.60 409.92 L341.67 410.15 L342.73 410.37 L343.80 410.60 L344.87 410.83 L345.93 411.06 L347.00 411.30 L348.06 411.53 L349.13 411.77 L350.19 412.01 L351.26 412.25 L352.33 412.50 L353.39 412.74 L354.46 412.99 L355.52 413.24 L356.59 413.49 L357.65 413.74 L358.72 413.99 L359.79 414.25 L360.85 414.51 L361.92 414.77 L362.98 415.03 L364.05 415.29 L365.11 415.55 L366.18 415.81 L367.25 416.08 L368.31 416.35 L369.38 416.61 L370.44 416.88 L371.51 417.15 L372.58 417.42 L373.64 417.69 L374.71 417.97 L375.77 418.24 L376.84 418.51 L377.90 418.79 L378.97 419.06 L380.04 419.34 L381.10 419.61 L382.17 419.89 L383.23 420.17 L384.30 420.44 L385.36 420.72 L386.43 421.00 L387.50 421.28 L388.56 421.56 L389.63 421.83 L390.69 422.11 L391.76 422.39 L392.82 422.67 L393.89 422.95 L394.96 423.22 L396.02 423.50 L397.09 423.78 L398.15 424.05 L399.22 424.33 L400.28 424.60 L401.35 424.88 L402.42 425.15 L403.48 425.42 L404.55 425.70 L405.61 425.97 L406.68 426.24 L407.74 426.50 L408.81 426.77 L409.88 427.04 L410.94 427.30 L412.01 427.57 L413.07 427.83 L414.14 428.09 L415.21 428.35 L416.27 428.61 L417.34 428.86 L418.40 429.11 L419.47 429.37 L420.53 429.62 L421.60 429.86 L422.67 430.11 L423.73 430.35 L424.80 430.59 L425.86 430.83 L426.93 431.07 L427.99 431.30 L429.06 431.53 L430.13 431.76 L431.19 431.98 L432.26 432.20 L433.32 432.42 L434.39 432.64 L435.45 432.85 L436.52 433.06 L437.59 433.27 L438.65 433.47 L439.72 433.67 L440.78 433.87 L441.85 434.06 L442.91 434.25 L443.98 434.43 L445.05 434.61 L446.11 434.79 L447.18 434.96 L448.24 435.13 L449.31 435.30 L450.37 435.45 L451.44 435.61 L452.51 435.76 L453.57 435.91 L454.64 436.05 L455.70 436.18 L456.77 436.31 L457.84 436.44 L458.90 436.56 L459.97 436.68 L461.03 436.79 L462.10 436.89 L463.16 436.99 L464.23 437.09 L465.30 437.17 L466.36 437.25 L467.43 437.33 L468.49 437.40 L469.56 437.46 L470.62 437.52 L471.69 437.57 L472.76 437.62 L473.82 437.66 L474.89 437.69 L475.95 437.71 L477.02 437.73 L478.08 437.74 L479.15 437.74 L480.22 437.74 L481.28 437.73 L482.35 437.71 L483.41 437.68 L484.48 437.65 L485.54 437.61 L486.61 437.56 L487.68 437.50 L488.74 437.44 L489.81 437.36 L490.87 437.28 L491.94 437.19 L493.00 437.09 L494.07 436.98 L495.14 436.87 L496.20 436.74 L497.27 436.61 L498.33 436.46 L499.40 436.31 L500.47 436.15 L501.53 435.98 L502.60 435.79 L503.66 435.60 L504.73 435.40 L505.79 435.19 L506.86 434.97 L507.93 434.74 L508.99 434.50 L510.06 434.24 L511.12 433.98 L512.19 433.71 L513.25 433.42 L514.32 433.13 L515.39 432.82 L516.45 432.50 L517.52 432.17 L518.58 431.83 L519.65 431.48 L520.71 431.12 L521.78 430.74 L522.85 430.35 L523.91 429.95 L524.98 429.54 L526.04 429.12 L527.11 428.68 L528.17 428.23 L529.24 427.77 L530.31 427.29 L531.37 426.80 L532.44 426.30 L533.50 425.79 L534.57 425.26 L535.63 424.72 L536.70 424.16 L537.77 423.59 L538.83 423.01 L539.90 422.41 L540.96 421.80 L542.03 421.17 L543.10 420.53 L544.16 419.87 L545.23 419.20 L546.29 418.52 L547.36 417.82 L548.42 417.10 L549.49 416.37 L550.56 415.62 L551.62 414.86 L552.69 414.08 L553.75 413.29 L554.82 412.47 L555.88 411.65 L556.95 410.80 L558.02 409.94 L559.08 409.07 L560.15 408.17 L561.21 407.26 L562.28 406.33 L563.34 405.39 L564.41 404.43 L565.48 403.45 L566.54 402.45 L567.61 401.43 L568.67 400.40 L569.74 399.34 L570.80 398.27 L571.87 397.18 L572.94 396.08 L574.00 394.95 L575.07 393.80 L576.13 392.64 L577.20 391.45 L578.26 390.25 L579.33 389.02 L580.40 387.78 L581.46 386.52 L582.53 385.23 L583.59 383.93 L584.66 382.60 L585.73 381.26 L586.79 379.89 L587.86 378.51 L588.92 377.10 L589.99 375.67 L591.05 374.22 L592.12 372.75 L593.19 371.25 L594.25 369.74 L595.32 368.20 L596.38 366.64 L597.45 365.06 L598.51 363.45 L599.58 361.82 L600.65 360.17 L601.71 358.50 L602.78 356.80 L603.84 355.08 L604.91 353.33 L605.97 351.57 L607.04 349.77 L608.11 347.96 L609.17 346.12 L610.24 344.25 L611.30 342.36 L612.37 340.45 L613.43 338.51 L614.50 336.54 L615.57 334.55 L616.63 332.53 L617.70 330.49 L618.76 328.43 L619.83 326.33 L620.89 324.21 L621.96 322.07 L623.03 319.89 L624.09 317.69 L625.16 315.47 L626.22 313.21 L627.29 310.93 L628.36 308.62 L629.42 306.29 L630.49 303.92 L631.55 301.53 L632.62 299.11 L633.68 296.66 L634.75 294.18 L635.82 291.67 L636.88 289.14 L637.95 286.57 L639.01 283.98 L640.08 281.35 L641.14 278.70 L642.21 276.02 L643.28 273.30 L644.34 270.56 L645.41 267.78 L646.47 264.98 L647.54 262.14 L648.60 259.27 L649.67 256.37 L650.74 253.44 L651.80 250.48 L652.87 247.49 L653.93 244.46 L655.00 241.40 L656.06 238.31 L657.13 235.19 L658.20 232.03 L659.26 228.84 L660.33 225.62 L661.39 222.36 L662.46 219.07 L663.52 215.75 L664.59 212.39 L665.66 209.00 L666.72 205.57 L667.79 202.11 L668.85 198.61 L669.92 195.08 L670.99 191.51 L672.05 187.91 L673.12 184.27 L674.18 180.60 L675.25 176.89 L676.31 173.14 L677.38 169.36 L678.45 165.54 L679.51 161.68 L680.58 157.78 L681.64 153.85 L682.71 149.88 L683.77 145.88 L684.84 141.83 L685.91 137.75 L686.97 133.63 L688.04 129.47 L689.10 125.27 L690.17 121.03 L691.23 116.75 L692.30 112.43" stroke="#AA0000"/>
</g>
<g fill="#000">
<circle cx="383.57" cy="333.94" r="4.0"/>
<circle cx="393.80" cy="333.94" r="4.0"/>
<circle cx="307.52" cy="371.63" r="4.0"/>
<circle cx="454.85" cy="384.49" r="4.0"/>
<circle cx="266.00" cy="401.62" r="4.0"/>
<circle cx="479.15" cy="437.74" r="4.0"/>
</g>
<g class="ax">
<line x1="39.2" y1="437.6" x2="705.8" y2="437.6"/>
<line x1="52.85" y1="46.4" x2="52.85" y2="458.2"/>
<line x1="74.17" y1="437.60" x2="74.17" y2="433.20"/>
<line x1="95.48" y1="437.60" x2="95.48" y2="433.20"/>
<line x1="116.80" y1="437.60" x2="116.80" y2="433.20"/>
<line x1="138.11" y1="437.60" x2="138.11" y2="430.20"/>
<line x1="159.43" y1="437.60" x2="159.43" y2="433.20"/>
<line x1="180.74" y1="437.60" x2="180.74" y2="433.20"/>
<line x1="202.06" y1="437.60" x2="202.06" y2="433.20"/>
<line x1="223.37" y1="437.60" x2="223.37" y2="430.20"/>
<line x1="244.69" y1="437.60" x2="244.69" y2="433.20"/>
<line x1="266.00" y1="437.60" x2="266.00" y2="433.20"/>
<line x1="287.32" y1="437.60" x2="287.32" y2="433.20"/>
<line x1="308.63" y1="437.60" x2="308.63" y2="430.20"/>
<line x1="329.95" y1="437.60" x2="329.95" y2="433.20"/>
<line x1="351.26" y1="437.60" x2="351.26" y2="433.20"/>
<line x1="372.58" y1="437.60" x2="372.58" y2="433.20"/>
<line x1="393.89" y1="437.60" x2="393.89" y2="430.20"/>
<line x1="415.21" y1="437.60" x2="415.21" y2="433.20"/>
<line x1="436.52" y1="437.60" x2="436.52" y2="433.20"/>
<line x1="457.84" y1="437.60" x2="457.84" y2="433.20"/>
<line x1="479.15" y1="437.60" x2="479.15" y2="430.20"/>
<line x1="500.47" y1="437.60" x2="500.47" y2="433.20"/>
<line x1="521.78" y1="437.60" x2="521.78" y2="433.20"/>
<line x1="543.10" y1="437.60" x2="543.10" y2="433.20"/>
<line x1="564.41" y1="437.60" x2="564.41" y2="430.20"/>
<line x1="585.73" y1="437.60" x2="585.73" y2="433.20"/>
<line x1="607.04" y1="437.60" x2="607.04" y2="433.20"/>
<line x1="628.36" y1="437.60" x2="628.36" y2="433.20"/>
<line x1="649.67" y1="437.60" x2="649.67" y2="430.20"/>
<line x1="670.99" y1="437.60" x2="670.99" y2="433.20"/>
<line x1="692.30" y1="437.60" x2="692.30" y2="433.20"/>
<line x1="52.85" y1="449.35" x2="57.55" y2="449.35"/>
<line x1="52.85" y1="426.21" x2="57.55" y2="426.21"/>
<line x1="52.85" y1="414.65" x2="57.55" y2="414.65"/>
<line x1="52.85" y1="403.08" x2="57.55" y2="403.08"/>
<line x1="52.85" y1="391.52" x2="57.55" y2="391.52"/>
<line x1="52.85" y1="379.95" x2="60.65" y2="379.95"/>
<line x1="52.85" y1="368.38" x2="57.55" y2="368.38"/>
<line x1="52.85" y1="356.82" x2="57.55" y2="356.82"/>
<line x1="52.85" y1="345.25" x2="57.55" y2="345.25"/>
<line x1="52.85" y1="333.69" x2="57.55" y2="333.69"/>
<line x1="52.85" y1="322.12" x2="60.65" y2="322.12"/>
<line x1="52.85" y1="310.55" x2="57.55" y2="310.55"/>
<line x1="52.85" y1="298.99" x2="57.55" y2="298.99"/>
<line x1="52.85" y1="287.42" x2="57.55" y2="287.42"/>
<line x1="52.85" y1="275.86" x2="57.55" y2="275.86"/>
<line x1="52.85" y1="264.29" x2="60.65" y2="264.29"/>
<line x1="52.85" y1="252.72" x2="57.55" y2="252.72"/>
<line x1="52.85" y1="241.16" x2="57.55" y2="241.16"/>
<line x1="52.85" y1="229.59" x2="57.55" y2="229.59"/>
<line x1="52.85" y1="218.03" x2="57.55" y2="218.03"/>
<line x1="52.85" y1="206.46" x2="60.65" y2="206.46"/>
<line x1="52.85" y1="194.89" x2="57.55" y2="194.89"/>
<line x1="52.85" y1="183.33" x2="57.55" y2="183.33"/>
<line x1="52.85" y1="171.76" x2="57.55" y2="171.76"/>
<line x1="52.85" y1="160.20" x2="57.55" y2="160.20"/>
<line x1="52.85" y1="148.63" x2="60.65" y2="148.63"/>
<line x1="52.85" y1="137.06" x2="57.55" y2="137.06"/>
<line x1="52.85" y1="125.50" x2="57.55" y2="125.50"/>
<line x1="52.85" y1="113.93" x2="57.55" y2="113.93"/>
<line x1="52.85" y1="102.37" x2="57.55" y2="102.37"/>
<line x1="52.85" y1="90.80" x2="60.65" y2="90.80"/>
<line x1="52.85" y1="79.23" x2="57.55" y2="79.23"/>
<line x1="52.85" y1="67.67" x2="57.55" y2="67.67"/>
<line x1="52.85" y1="56.10" x2="57.55" y2="56.10"/>
</g>
<g>
<line x1="225.8" y1="65.1" x2="267.2" y2="65.1" stroke="#BC6E22" stroke-width="4"/>
<text class="m i" transform="translate(281.01 73.72) scale(1.4632 1.4104)" style="font-size:20px">S</text>
<path d="M286.1 53.5 L289.7 50.6 L293.8 53.5" fill="none" stroke="#111" stroke-width="1.25" stroke-linejoin="miter"/>
<path d="M303.9 64.7 H320.2 M303.9 69.4 H320.2" fill="none" stroke="#111" stroke-width="1.05"/>
<text class="m" transform="translate(328.30 73.22) scale(1.2507 1.2574)" style="font-size:20px">0.04</text>
<line x1="225.8" y1="119.1" x2="267.2" y2="119.1" stroke="#800080" stroke-width="4"/>
<text class="m i" transform="translate(281.01 127.72) scale(1.4632 1.4104)" style="font-size:20px">S</text>
<path d="M286.1 107.5 L289.7 104.6 L293.8 107.5" fill="none" stroke="#111" stroke-width="1.25" stroke-linejoin="miter"/>
<path d="M303.9 118.7 H320.2 M303.9 123.4 H320.2" fill="none" stroke="#111" stroke-width="1.05"/>
<text class="m" transform="translate(328.31 127.22) scale(1.2397 1.2574)" style="font-size:20px">0.0305</text>
<line x1="225.8" y1="173.1" x2="267.2" y2="173.1" stroke="#808080" stroke-width="4"/>
<text class="m i" transform="translate(281.01 181.72) scale(1.4632 1.4104)" style="font-size:20px">S</text>
<path d="M286.1 161.5 L289.7 158.6 L293.8 161.5" fill="none" stroke="#111" stroke-width="1.25" stroke-linejoin="miter"/>
<path d="M303.9 172.7 H320.2 M303.9 177.4 H320.2" fill="none" stroke="#111" stroke-width="1.05"/>
<text class="m" transform="translate(328.31 181.22) scale(1.2419 1.2574)" style="font-size:20px">0.015</text>
<line x1="225.8" y1="227.1" x2="267.2" y2="227.1" stroke="#AA0000" stroke-width="4"/>
<text class="m i" transform="translate(281.01 235.72) scale(1.4632 1.4104)" style="font-size:20px">S</text>
<path d="M286.1 215.5 L289.7 212.6 L293.8 215.5" fill="none" stroke="#111" stroke-width="1.25" stroke-linejoin="miter"/>
<path d="M303.9 226.7 H320.2 M303.9 231.4 H320.2" fill="none" stroke="#111" stroke-width="1.05"/>
<text class="m" transform="translate(328.33 235.22) scale(1.2159 1.2574)" style="font-size:20px">0.00001</text>
</g>
<text class="m i" transform="translate(20.78 22.92) scale(1.2923 1.2707)" style="font-size:20px">V</text>
<text class="m i" transform="translate(36.20 26.23) scale(1.0105 0.8507)" style="font-size:20px">S</text>
<text class="m" transform="translate(48.85 22.85) scale(1.0588 1.3444)" style="font-size:20px">(</text>
<text class="m i" transform="translate(58.64 23.20) scale(1.4083 1.2923)" style="font-size:20px">R</text>
<text class="m" transform="translate(76.43 22.85) scale(1.1154 1.3444)" style="font-size:20px">)</text>
<text class="m i" transform="translate(725.74 444.00) scale(1.4167 1.3231)" style="font-size:20px">R</text>
</svg></div>
</body></html>
